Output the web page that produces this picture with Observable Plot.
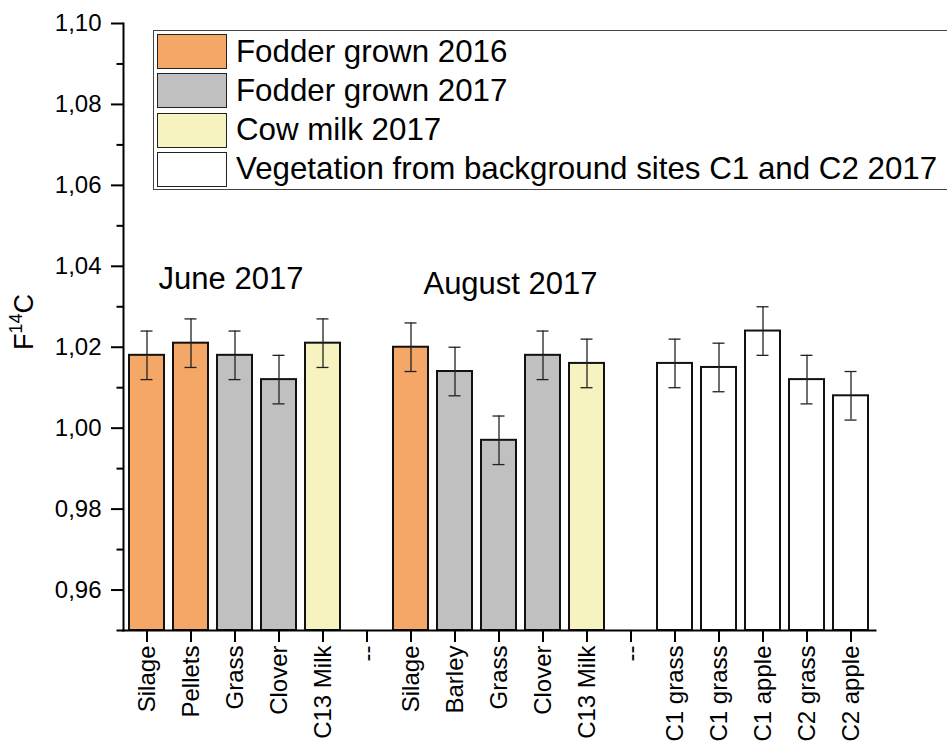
<!DOCTYPE html>
<html>
<head>
<meta charset="utf-8">
<script src="https://cdn.jsdelivr.net/npm/d3@7"></script>
<script src="https://cdn.jsdelivr.net/npm/@observablehq/plot@0.6"></script>
<style>
  body { margin: 0; background: #fff; }
  #wrap { position: relative; width: 947px; height: 751px; font-family: "Liberation Sans", Arial, sans-serif; }
  #legend { position: absolute; left: 153px; top: 30px; width: 800px; height: 160px; border: 1.5px solid #444; background: #fff; box-sizing: border-box; }
  .row { position: absolute; left: 3px; height: 36px; display: flex; align-items: center; }
  .sw { width: 70px; height: 35px; border: 1.5px solid #222; box-sizing: border-box; margin-right: 9px; }
  .lt { font-size: 31.3px; color: #000; white-space: nowrap; }
  #ylab { position: absolute; left: 24px; top: 322px; transform: translate(-50%, -50%) rotate(-90deg); font-size: 27px; white-space: nowrap; color: #000; }
  #ylab sup { font-size: 18px; vertical-align: 11px; line-height: 0; }
  #chart svg g[aria-label="x-axis tick label"] { font-size: 24px; }
  #chart svg g[aria-label="y-axis tick label"] { font-size: 24px; }
</style>
</head>
<body>
<div id="wrap">
  <div id="chart"></div>
  <div id="legend"></div>
  <div id="ylab">F<sup>14</sup>C</div>
</div>
<script>
// Category labels along x (17 positions, "--" are gaps)
const labels = ["Silage","Pellets","Grass","Clover","C13 Milk","--","Silage","Barley","Grass","Clover","C13 Milk","--","C1 grass","C1 grass","C1 apple","C2 grass","C2 apple"];
// Group of each position (null for gap)
const groups = ["Fodder grown 2016","Fodder grown 2016","Fodder grown 2017","Fodder grown 2017","Cow milk 2017",null,"Fodder grown 2016","Fodder grown 2017","Fodder grown 2017","Fodder grown 2017","Cow milk 2017",null,"Vegetation from background sites C1 and C2 2017","Vegetation from background sites C1 and C2 2017","Vegetation from background sites C1 and C2 2017","Vegetation from background sites C1 and C2 2017","Vegetation from background sites C1 and C2 2017"];
// F14C values and uncertainties
const values = [1.018,1.021,1.018,1.012,1.021,null,1.020,1.014,0.997,1.018,1.016,null,1.016,1.015,1.024,1.012,1.008];
const errors = [0.006,0.006,0.006,0.006,0.006,null,0.006,0.006,0.006,0.006,0.006,null,0.006,0.006,0.006,0.006,0.006];
// Legend
const legendNames = ["Fodder grown 2016","Fodder grown 2017","Cow milk 2017","Vegetation from background sites C1 and C2 2017"];
const legendColors = ["#F4A766","#C0C0C0","#F7F3C0","#FFFFFF"];
// Y ticks
const majorTicks = [0.96,0.98,1.00,1.02,1.04,1.06,1.08,1.10];
const minorTicks = [0.95,0.97,0.99,1.01,1.03,1.05,1.07,1.09];
// Annotations
const annoText = ["June 2017","August 2017"];
const annoPos = [2, 8];
const annoY = [1.0344, 1.0332];

const keys = labels.map((_, i) => String(i));
const data = keys.map((k, i) => ({key: k, label: labels[i], group: groups[i], value: values[i], err: errors[i]}))
  .filter(d => d.value != null);
const annos = annoText.map((t, i) => ({text: t, key: keys[annoPos[i]], y: annoY[i]}));

const plot = Plot.plot({
  width: 947,
  height: 751,
  marginTop: 23,
  marginBottom: 121,
  marginLeft: 123,
  marginRight: 72,
  style: {fontFamily: "Liberation Sans, Arial, sans-serif", fontSize: "24px", color: "#000", background: "#fff"},
  x: {domain: keys, paddingInner: 0.2, paddingOuter: 0, align: 0.5, insetLeft: 3.5, insetRight: 4.5, label: null},
  y: {domain: [0.95, 1.10], label: null},
  color: {domain: legendNames, range: legendColors},
  marks: [
    Plot.barY(data, {x: "key", y1: () => 0.95, y2: "value", fill: "group", stroke: "#111", strokeWidth: 2}),
    Plot.ruleX(data, {x: "key", y1: d => d.value - d.err, y2: d => d.value + d.err, stroke: "#222", strokeWidth: 1.3}),
    Plot.tickY(data, {x: "key", y: d => d.value - d.err, stroke: "#222", strokeWidth: 1.3, insetLeft: 11.5, insetRight: 11.5}),
    Plot.tickY(data, {x: "key", y: d => d.value + d.err, stroke: "#222", strokeWidth: 1.3, insetLeft: 11.5, insetRight: 11.5}),
    Plot.text([annos[0]], {x: "key", y: "y", text: "text", dx: -4, fontSize: 31, lineAnchor: "bottom", textAnchor: "middle", fill: "#000"}),
    Plot.text([annos[1]], {x: "key", y: "y", text: "text", dx: 11.5, fontSize: 31, lineAnchor: "bottom", textAnchor: "middle", fill: "#000"}),
    Plot.axisY({ticks: majorTicks, tickSize: 12, tickPadding: 10, tickFormat: d => d.toFixed(2).replace(".", ","), strokeWidth: 2, fontSize: 24}),
    Plot.axisY({ticks: minorTicks, tickSize: 6.5, tickFormat: () => "", strokeWidth: 2}),
    Plot.axisX({tickSize: 12, tickPadding: 3, tickRotate: -90, tickFormat: k => labels[+k], strokeWidth: 2, fontSize: 24}),
    Plot.frame({anchor: "left", strokeWidth: 2, stroke: "#000"}),
    Plot.frame({anchor: "bottom", strokeWidth: 2, stroke: "#000"})
  ]
});
document.getElementById("chart").appendChild(plot);

const leg = d3.select("#legend");
legendNames.forEach((n, i) => {
  const r = leg.append("div").attr("class", "row").style("top", (2.5 + i * 39.3) + "px");
  r.append("div").attr("class", "sw").style("background", legendColors[i]);
  r.append("div").attr("class", "lt").text(n);
});
</script>
</body>
</html>
